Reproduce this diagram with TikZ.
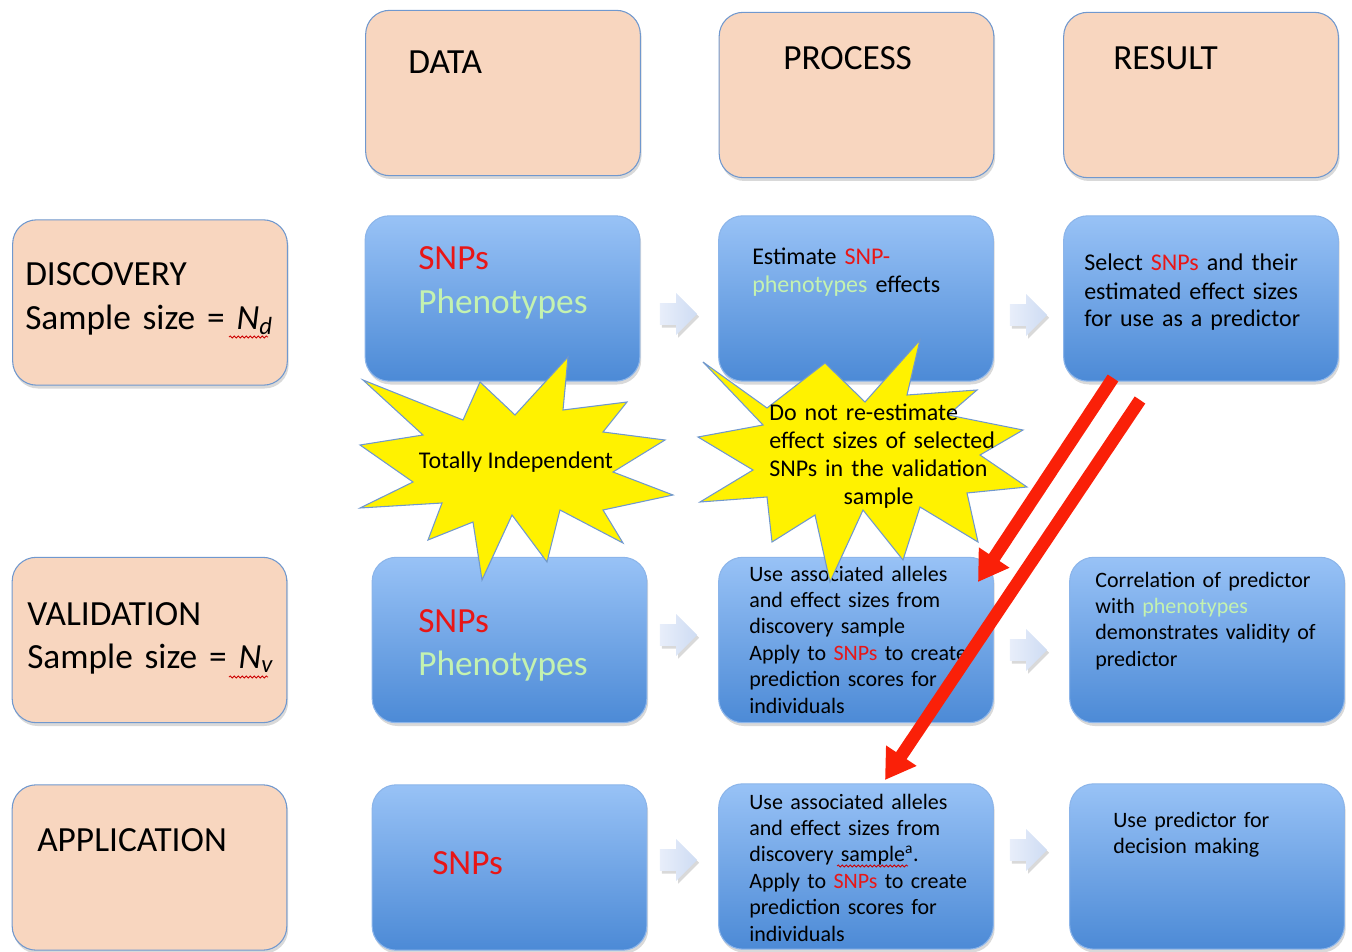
\documentclass[tikz,border=0pt]{standalone}
\usepackage{fontspec}
\setmainfont{Carlito}
\usepackage{tikz}
\usetikzlibrary{shapes.arrows}
\usetikzlibrary{shadows}
\usetikzlibrary{arrows.meta}
\usetikzlibrary{decorations.pathmorphing}

\definecolor{peach}{RGB}{248,214,191}
\definecolor{edgeblue}{RGB}{112,152,206}
\definecolor{boxtop}{RGB}{152,194,246}
\definecolor{boxbot}{RGB}{76,138,214}
\definecolor{snpred}{RGB}{232,22,22}
\definecolor{phenogreen}{RGB}{196,242,176}
\definecolor{arrowred}{RGB}{250,32,8}
\definecolor{paleleft}{RGB}{232,238,250}
\definecolor{paleright}{RGB}{206,220,243}

\tikzset{
  rowbox/.style={rectangle, rounded corners=18pt, minimum width=206pt, minimum height=124pt,
    line width=0.8pt, drop shadow={opacity=0.3, shadow xshift=1pt, shadow yshift=-2.5pt}},
  peachbox/.style={rowbox, fill=peach, draw=edgeblue},
  bluebox/.style={rowbox, top color=boxtop, bottom color=boxbot, draw=boxtop!70!edgeblue},
  bigtxt/.style={anchor=base west, inner sep=0pt, text width=200pt, align=left,
    font=\fontsize{26.5}{32.25}\selectfont},
  toptxt/.style={anchor=base west, inner sep=0pt, text width=195pt, align=left,
    font=\fontsize{18}{21}\selectfont},
  lowtxt/.style={anchor=base west, inner sep=0pt, text width=195pt, align=left,
    font=\fontsize{16.5}{19.8}\selectfont},
  stepper/.style={single arrow, minimum height=28pt, inner xsep=0pt, inner ysep=8pt,
    single arrow head extend=7.5pt, left color=paleleft, right color=paleright, draw=none,
    drop shadow={opacity=0.3, shadow xshift=1.5pt, shadow yshift=-2pt}},
  burst/.style={fill=yellow, draw=edgeblue, line width=0.8pt, line join=miter},
  bursttxt/.style={inner sep=0pt, font=\fontsize{18}{21}\selectfont},
  redarrow/.style={draw=arrowred, line width=9.5pt, -{Triangle[width=26pt,length=22pt]}},
  spellwave/.style={draw=red!80!black, line width=0.6pt, decorate,
    decoration={snake, amplitude=0.8pt, segment length=3pt}}
}

\begin{document}
\begin{tikzpicture}[x=0.75pt,y=0.75pt,yscale=-1,xscale=1]
\useasboundingbox (0,0) rectangle (1352,952);

%Column headers
\node[peachbox] (hdata) at (503,93) {};
\node[peachbox] (hproc) at (856.5,95) {};
\node[peachbox] (hres) at (1201,95) {};
\node[bigtxt] (tdata) at (408,74) {DATA};
\node[bigtxt] (tproc) at (783,70) {PROCESS};
\node[bigtxt] (tres) at (1113,70) {RESULT};

%Row labels
\node[peachbox] (ldisc) at (150,302.5) {};
\node[peachbox] (lval) at (149.5,640) {};
\node[peachbox] (lapp) at (149.5,867.5) {};
\node[bigtxt] (tdisc) at (25,286) {DISCOVERY\\Sample size = \textit{N}\textsubscript{\textit{d}}};
\node[bigtxt] (tval) at (27,625) {VALIDATION\\Sample size = \textit{N}\textsubscript{\textit{v}}};
\node[bigtxt] (tapp) at (37,851) {APPLICATION};

%Discovery row
\node[bluebox] (d1) at (502.5,298.5) {};
\node[bluebox] (d2) at (856,298.5) {};
\node[bluebox] (d3) at (1201,298.5) {};
\node[bigtxt] (td1) at (418,270) {\textcolor{snpred}{SNPs}\\\textcolor{phenogreen}{Phenotypes}};
\node[toptxt] (td2) at (752,264) {Estimate \textcolor{snpred}{SNP-}\\\textcolor{phenogreen}{phenotypes} effects};
\node[toptxt] (td3) at (1084,271) {Select \textcolor{snpred}{SNPs} and their\\estimated effect sizes\\for use as a predictor};

%Validation row
\node[bluebox] (v1) at (509.5,640) {};
\node[bluebox] (v2) at (856,640) {};
\node[bluebox] (v3) at (1207,640) {};
\node[bigtxt] (tv1) at (418,632) {\textcolor{snpred}{SNPs}\\\textcolor{phenogreen}{Phenotypes}};
\node[lowtxt] (tv2) at (749,581) {Use associated alleles\\and effect sizes from\\discovery sample\\Apply to \textcolor{snpred}{SNPs} to create\\prediction scores for\\individuals};
\node[lowtxt] (tv3) at (1095,587) {Correlation of predictor\\with \textcolor{phenogreen}{phenotypes}\\demonstrates validity of\\predictor};

%Application row
\node[bluebox] (a1) at (509.5,867.5) {};
\node[bluebox] (a2) at (856,866.5) {};
\node[bluebox] (a3) at (1207,866.5) {};
\node[bigtxt] (ta1) at (432,874) {\textcolor{snpred}{SNPs}};
\node[lowtxt] (ta2) at (749,809) {Use associated alleles\\and effect sizes from\\discovery sample\textsuperscript{a}.\\Apply to \textcolor{snpred}{SNPs} to create\\prediction scores for\\individuals};
\node[lowtxt] (ta3) at (1113,827) {Use predictor for\\decision making};

%Step arrows
\node[stepper] (s1) at (673,314) {};
\node[stepper] (s2) at (1023,315) {};
\node[stepper] (s3) at (673,635) {};
\node[stepper] (s4) at (1023,650) {};
\node[stepper] (s5) at (673,860) {};
\node[stepper] (s6) at (1023,850) {};

%Starbursts
\draw[burst] (568,357) -- (563,410) -- (627,402) -- (603,432) -- (665,440) -- (613,472) -- (673,495) -- (603,510) -- (623,543) -- (560,510) -- (547,562) -- (512,515) -- (482,580) -- (473,522) -- (428,540) -- (442,503) -- (360,508) -- (413,482) -- (360,445) -- (423,435) -- (363,380) -- (463,420) -- (480,382) -- (515,415) -- cycle;
\node[bursttxt, anchor=base] (indep) at (516,468) {Totally Independent};

\draw[burst] (920,340) -- (907,395) -- (977,390) -- (948,415) -- (1023,430) -- (980,455) -- (1027,487) -- (967,493) -- (978,542) -- (920,507) -- (903,560) -- (863,510) -- (830,582) -- (815,515) -- (772,542) -- (767,497) -- (700,502) -- (753,470) -- (698,437) -- (763,425) -- (703,362) -- (767,408) -- (825,363) -- (865,402) -- cycle;
\node[bursttxt, anchor=base west, text width=200pt, align=left] (noreest) at (769,420) {Do not re-estimate\\effect sizes of selected\\SNPs in the validation\\\makebox[164pt][c]{sample}};

%Red arrows
\coordinate (r1s) at (1113,378);
\coordinate (r1e) at (978,582);
\coordinate (r2s) at (1140,400);
\coordinate (r2e) at (885,780);
\draw[redarrow] (r1s) -- (r1e);
\draw[redarrow] (r2s) -- (r2e);

%Spelling marks
\draw[spellwave] (229,337) -- (268,337);
\draw[spellwave] (229,677) -- (268,677);
\draw[spellwave] (837,866) -- (908,866);

\end{tikzpicture}
\end{document}
